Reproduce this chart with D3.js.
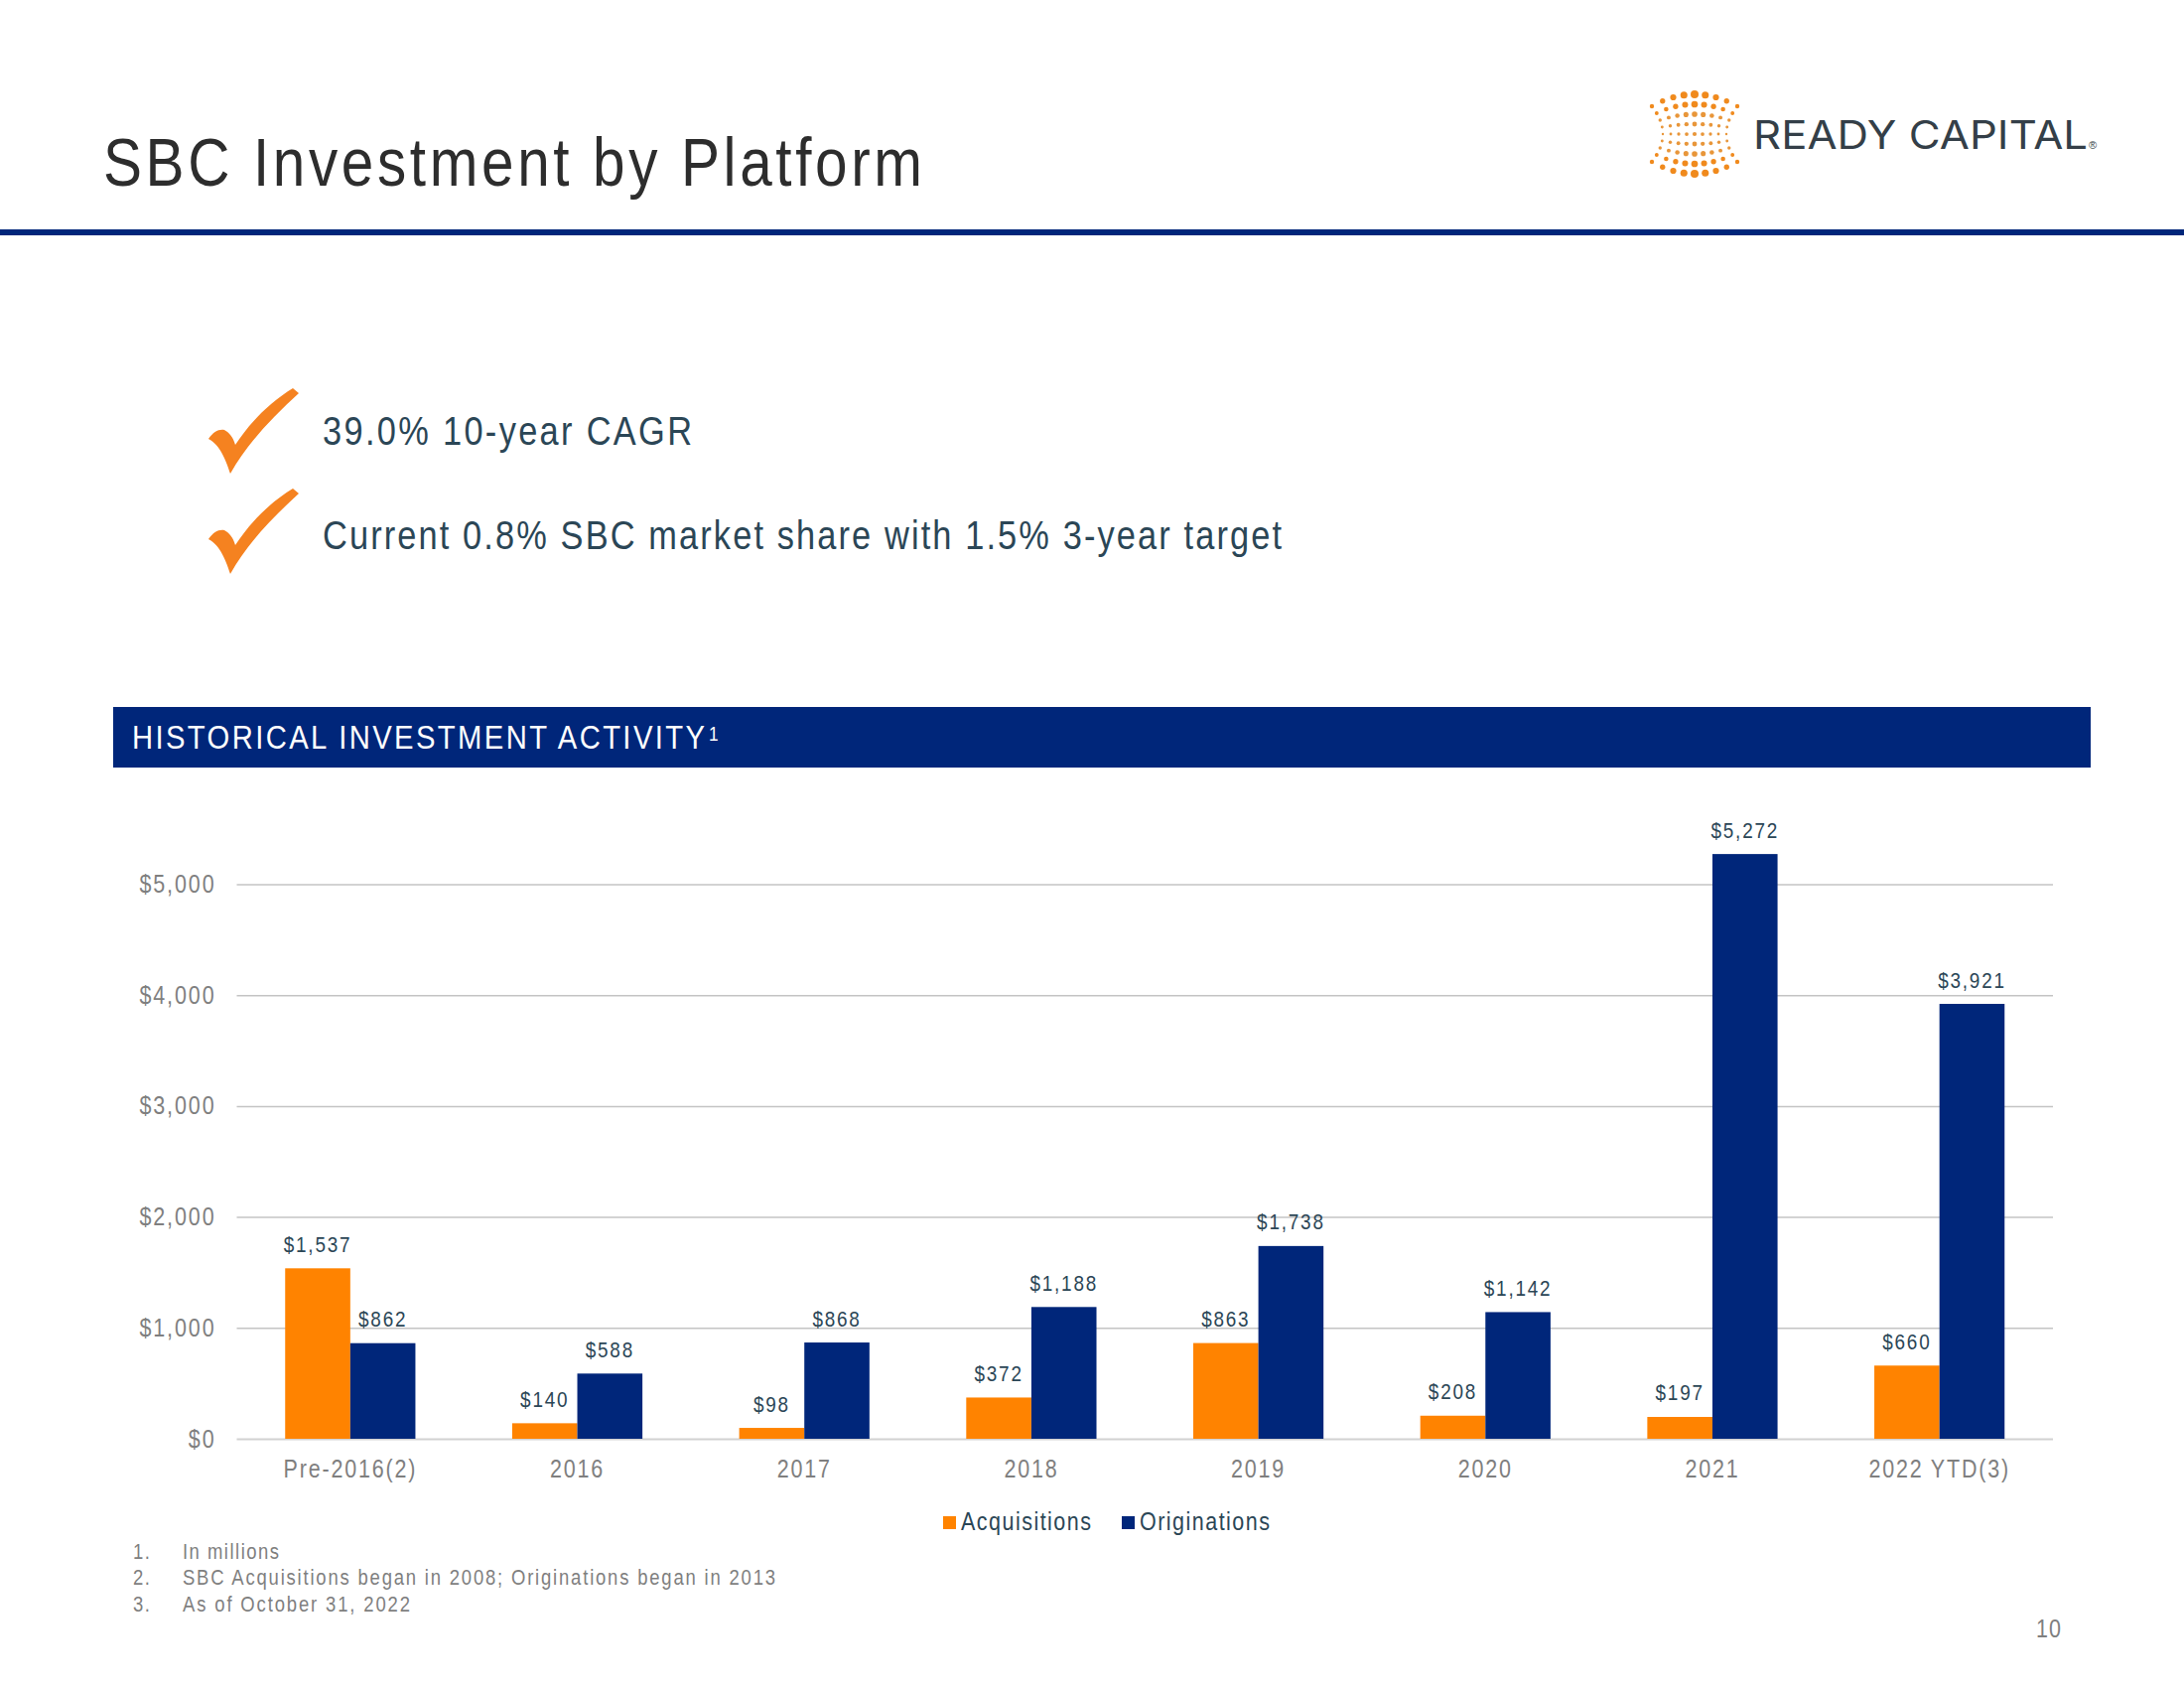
<!DOCTYPE html>
<html><head><meta charset="utf-8">
<script src="https://cdn.jsdelivr.net/npm/d3@7"></script>
<style>html,body{margin:0;background:#fff}svg{display:block}text{font-family:"Liberation Sans",Arial,sans-serif}</style>
</head><body><div id="c"></div>
<script>
const categories=["Pre-2016(2)","2016","2017","2018","2019","2020","2021","2022 YTD(3)"];
const acquisitions=[1537,140,98,372,863,208,197,660];
const originations=[862,588,868,1188,1738,1142,5272,3921];
const seriesNames=["Acquisitions","Originations"];
const yTicks=[0,1000,2000,3000,4000,5000];
const footnotes=["In millions","SBC Acquisitions began in 2008; Originations began in 2013","As of October 31, 2022"];
const bullets=["39.0% 10-year CAGR","Current 0.8% SBC market share with 1.5% 3-year target"];
const ORANGE="#ff8300",NAVY="#00267a",GRAY="#7f7f7f",TEAL="#2b4656";
const K=0.86; // horizontal condensing of the reference's narrow face

const svg=d3.select("#c").append("svg").attr("width",2200).attr("height",1700);
function T(x,y,s,size,fill,len,k){
  k=k||K;
  const t=svg.append("text").attr("transform",`translate(${x},${y}) scale(${k},1)`)
    .attr("font-size",size).attr("fill",fill).text(s);
  if(len) t.attr("textLength",len/k).attr("lengthAdjust","spacing");
  return t;
}
// header
T(104,187,"SBC Investment by Platform",68,"#2d2d2d",825);
svg.append("rect").attr("x",0).attr("y",231).attr("width",2200).attr("height",6).attr("fill",NAVY);

// logo
const logo=svg.append("g").attr("transform","translate(1707,135)");
for(let i=-4;i<=4;i++)for(let j=-4;j<=4;j++){
  const a=Math.abs(i)/4,b=Math.abs(j)/4;
  const sx=8+2.75*b*b, sy=10-3*a*a;
  const r=1.2+1.0*b+1.5*(1-a)*(0.6+b*b*0.6);
  logo.append("circle").attr("cx",i*sx).attr("cy",j*sy).attr("r",r).attr("fill",b>0.6?"#f08a1d":"#e8963a");
}
T(1766,150,"READY CAPITAL",39,"#343f48",337,1.12).style("font-family","Inter");
T(2104,150,"®",11,"#343f48",null,1);

// bullets
const check="M85,1 L91,6 C65,30 40,55 22,87 C18,75 12,58 0,52 C5,45 10,42 16,43 C20,45 25,50 27,58 C42,35 62,15 85,1 Z";
[390,491].forEach(y=>svg.append("path").attr("d",check).attr("transform",`translate(210,${y})`).attr("fill","#f58220"));
T(325,448,bullets[0],40,TEAL,372);
T(325,553,bullets[1],40,TEAL,966);

// band
svg.append("rect").attr("x",114).attr("y",712).attr("width",1992).attr("height",61).attr("fill",NAVY);
T(133,754,"HISTORICAL INVESTMENT ACTIVITY",34,"#fff",577);
T(714,746,"1",20,"#fff");

// chart
const x0=d3.scaleBand().domain(categories).range([238.5,2068]);
const barW=65.6;
const x1=d3.scaleBand().domain(seriesNames).range([x0.bandwidth()/2-barW,x0.bandwidth()/2+barW]);
const y=d3.scaleLinear().domain([0,5000]).range([1449,890.5]);

const gy=svg.append("g").attr("transform","translate(238.5,0)")
  .call(d3.axisLeft(y).tickValues(yTicks).tickFormat(d=>"$"+d3.format(",")(d)).tickSize(0).tickPadding(0));
gy.select(".domain").remove();
gy.selectAll("text").attr("x",0).attr("transform",`translate(-21,0) scale(${K},1)`)
  .attr("font-size",25).attr("fill",GRAY).attr("letter-spacing",2.2).style("font-family",'"Liberation Sans"');
gy.selectAll(".tick line").attr("x2",1829.5).attr("stroke",d=>d===0?"#d2d2d2":"#c4c4c4").attr("stroke-width",d=>d===0?2:1.5);

const rows=categories.map((c,i)=>[{c,s:seriesNames[0],v:acquisitions[i],col:ORANGE},{c,s:seriesNames[1],v:originations[i],col:NAVY}]).flat();
svg.append("g").selectAll("rect").data(rows).join("rect")
  .attr("x",d=>x0(d.c)+x1(d.s)).attr("width",x1.bandwidth())
  .attr("y",d=>y(d.v)).attr("height",d=>y(0)-y(d.v)).attr("fill",d=>d.col);
svg.append("g").selectAll("text").data(rows).join("text")
  .attr("transform",d=>`translate(${x0(d.c)+x1(d.s)+x1.bandwidth()/2},${y(d.v)-16.5}) scale(${K},1)`)
  .attr("text-anchor","middle").attr("font-size",22).attr("letter-spacing",2.1).attr("fill",TEAL)
  .text(d=>"$"+d3.format(",")(d.v));

const gx=svg.append("g").attr("transform","translate(0,1488)")
  .call(d3.axisBottom(x0).tickSize(0).tickPadding(0));
gx.select(".domain").remove();
gx.selectAll("text").attr("y",0).attr("dy",0).attr("transform",`scale(${K},1)`)
  .attr("font-size",25).attr("fill",GRAY).attr("letter-spacing",2.1).style("font-family",'"Liberation Sans"');

// legend
[[950,968,ORANGE],[1130,1148,NAVY]].forEach((p,i)=>{
  svg.append("rect").attr("x",p[0]).attr("y",1527).attr("width",13).attr("height",13).attr("fill",p[2]);
  T(p[1],1541,seriesNames[i],25,TEAL,131);
});

// footnotes
footnotes.forEach((s,i)=>{
  const yy=1569.5+i*26.5;
  T(134,yy,(i+1)+".",21.5,GRAY,17);
  T(184,yy,s,21.5,GRAY,[97,597,229][i]);
});
T(2051,1648.5,"10",25,GRAY,25);
</script></body></html>
